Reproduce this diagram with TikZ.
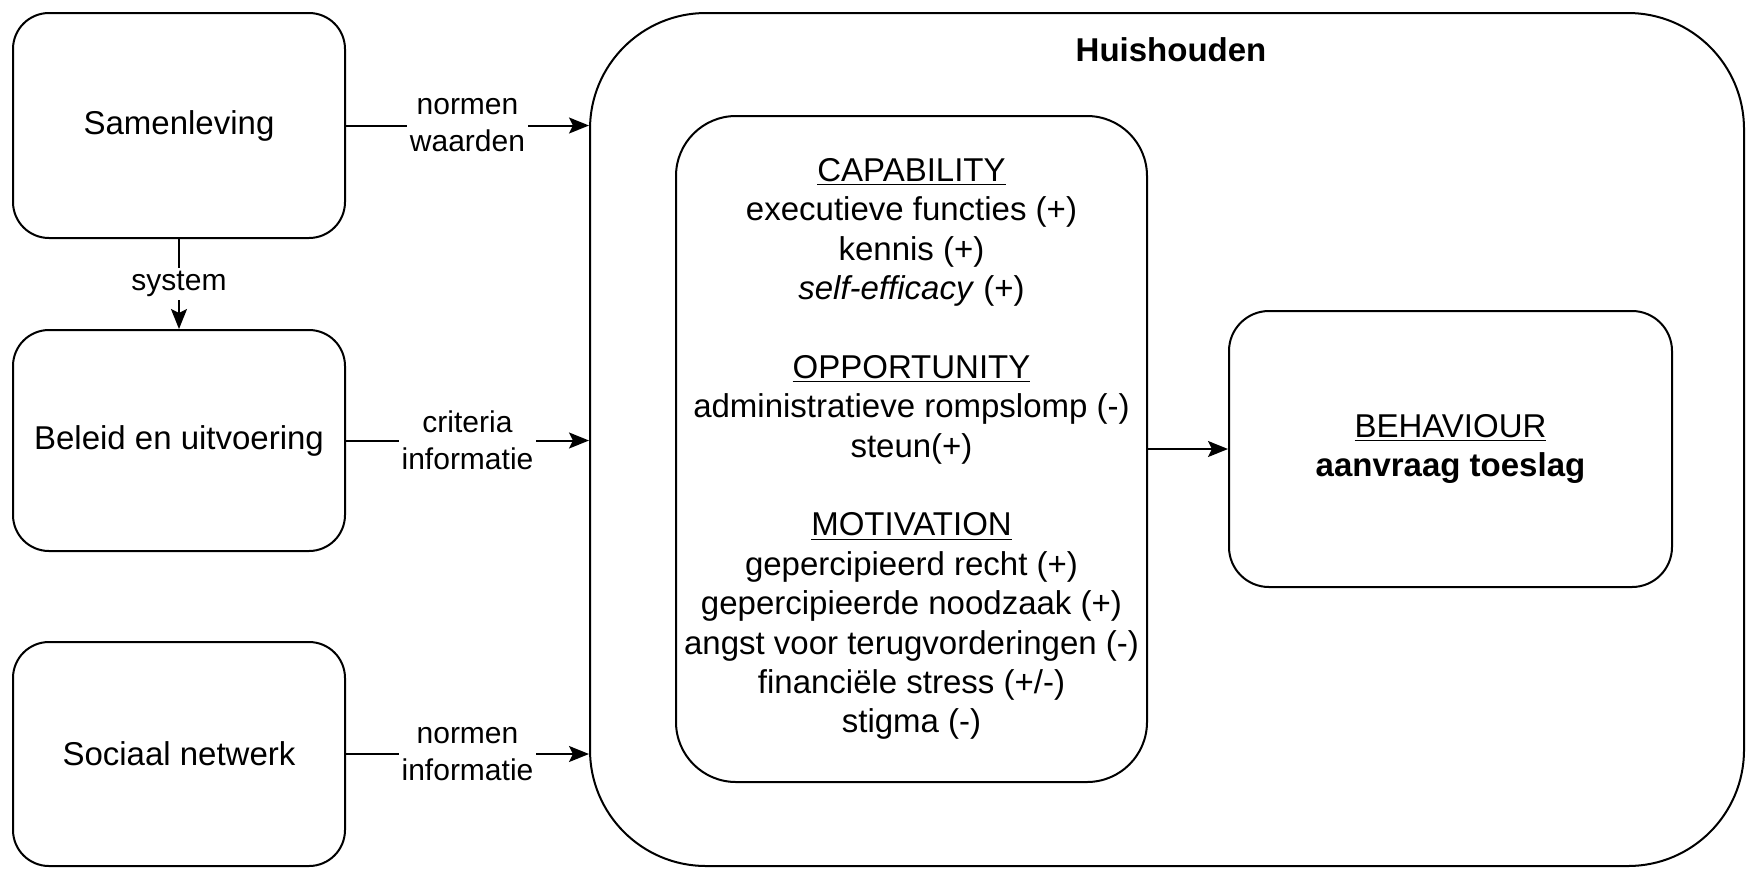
\documentclass[tikz,border=0pt]{standalone}
\usepackage{fontspec}
\setmainfont{Liberation Sans}
\usetikzlibrary{arrows.meta}
\begin{document}
\begin{tikzpicture}[x=0.5pt,y=-0.5pt,
  box/.style={draw, line width=1pt, rounded corners=18pt, minimum width=166pt, align=center,
    font=\fontsize{16.5}{19.7}\selectfont, inner sep=0pt},
  lbl/.style={fill=white, align=center, inner sep=1.5pt, font=\fontsize{15}{18.5}\selectfont},
  arr/.style={line width=1pt, -{Stealth[length=10pt,width=8pt,inset=2pt]}},
]
\useasboundingbox (0,0) rectangle (1746,869);
% outer household box
\node[draw, line width=1pt, rounded corners=58pt, minimum width=577pt, minimum height=426.5pt] (hh) at (1167,439.5) {};
\node[font=\bfseries\fontsize{16.5}{19.7}\selectfont] (hl) at (1171,50) {Huishouden};
% left boxes
\node[box, minimum height=112.5pt] (sam) at (179,125.5) {Samenleving};
\node[box, minimum height=110.5pt] (bel) at (179,440.5) {Beleid en uitvoering};
\node[box, minimum height=112pt] (soc) at (179,754) {Sociaal netwerk};
% inner COM box
\node[box, rounded corners=30pt, minimum width=235.5pt, minimum height=333pt] (com) at (911.5,449)
  {\underline{CAPABILITY}\\
   executieve functies (+)\\
   kennis (+)\\
   \textit{self-efficacy} (+)\\[19.7pt]
   \underline{OPPORTUNITY}\\
   administratieve rompslomp (-)\\
   steun(+)\\[19.7pt]
   \underline{MOTIVATION}\\
   gepercipieerd recht (+)\\
   gepercipieerde noodzaak (+)\\
   angst voor terugvorderingen (-)\\
   financiële stress (+/-)\\
   stigma (-)};
% behaviour box
\node[box, rounded corners=20pt, minimum width=221.5pt, minimum height=138pt] (beh) at (1450.5,449)
  {\underline{BEHAVIOUR}\\\textbf{aanvraag toeslag}};
% connectors
\draw[arr] (sam.east) -- node[lbl]{normen\\waarden} (sam.east -| hh.west);
\draw[arr] (sam.south) -- node[lbl]{system} (bel.north);
\draw[arr] (bel.east) -- node[lbl]{criteria\\informatie} (bel.east -| hh.west);
\draw[arr] (soc.east) -- node[lbl]{normen\\informatie} (soc.east -| hh.west);
\draw[arr] (com.east) -- (beh.west);
\end{tikzpicture}
\end{document}
